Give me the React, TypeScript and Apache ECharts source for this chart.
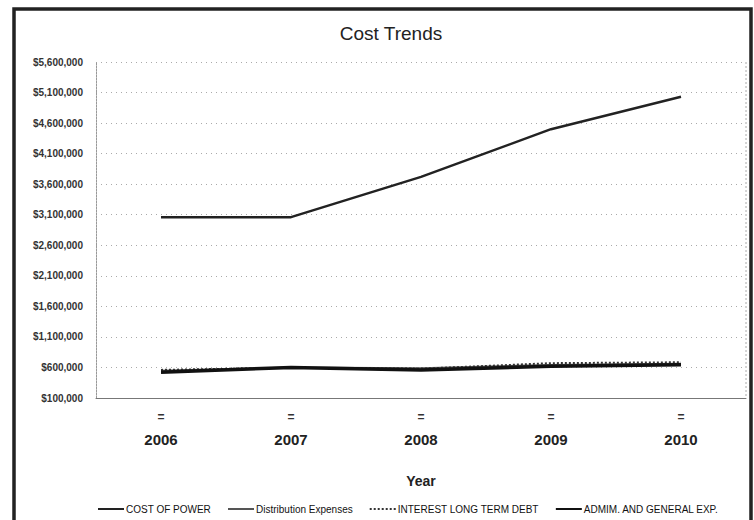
import React, { useEffect, useRef } from "react";
import * as echarts from "echarts";

const years = ["2006", "2007", "2008", "2009", "2010"];
const costOfPower = [3060000, 3060000, 3720000, 4500000, 5030000];
const distributionExpenses = [545000, 600000, 585000, 640000, 660000];
const interestLongTermDebt = [560000, 595000, 580000, 670000, 685000];
const adminGeneralExp = [520000, 600000, 560000, 620000, 645000];
const yMin = 100000;
const yMax = 5600000;
const yStep = 500000;

const fmtMoney = (v: number) => "$" + Math.round(v).toLocaleString("en-US");

export default function App() {
  const ref = useRef<HTMLDivElement>(null);
  useEffect(() => {
    const chart = echarts.init(ref.current!, null, { renderer: "svg" });
    const shift = (arr: number[]) => arr.map((v) => v - yMin);
    const font = "Liberation Sans, Arial, sans-serif";
    chart.setOption({
      animation: false,
      backgroundColor: "#fff",
      title: {
        text: "Cost Trends",
        left: 386,
        top: 19,
        textAlign: "center",
        textStyle: { fontFamily: font, fontSize: 19, fontWeight: "normal", color: "#222" },
      },
      grid: { left: 96, right: 8, top: 62, bottom: 122, containLabel: false },
      xAxis: {
        type: "category",
        data: years,
        boundaryGap: true,
        axisLine: { lineStyle: { color: "#777", width: 1 } },
        axisTick: { show: false },
        axisLabel: {
          margin: 8,
          formatter: (v: string) => "{eq|=}\n{yr|" + v + "}",
          rich: {
            eq: { fontFamily: font, fontSize: 12, fontWeight: "bold", color: "#333", lineHeight: 22 },
            yr: { fontFamily: font, fontSize: 15, fontWeight: "bold", color: "#222", lineHeight: 22 },
          },
        },
        name: "Year",
        nameLocation: "middle",
        nameGap: 76,
        nameTextStyle: { fontFamily: font, fontSize: 14, fontWeight: "bold", color: "#222" },
      },
      yAxis: {
        type: "value",
        min: 0,
        max: yMax - yMin,
        interval: yStep,
        axisLine: { show: true, lineStyle: { color: "#999", type: [2, 1], width: 1 } },
        axisTick: { show: false },
        axisLabel: {
          margin: 13,
          formatter: (v: number) => fmtMoney(v + yMin),
          fontFamily: font,
          fontSize: 10,
          fontWeight: "bold",
          color: "#333",
        },
        splitLine: { show: true, lineStyle: { color: "#aaa", type: [1, 4], width: 1 } },
      },
      legend: {
        left: 92,
        top: 499,
        itemWidth: 26,
        itemHeight: 8,
        itemGap: 16,
        itemStyle: { opacity: 0 },
        textStyle: { fontFamily: font, fontSize: 10, fontWeight: "normal", color: "#111", padding: [0, 0, 0, -3] },
        data: ["COST OF POWER", "Distribution Expenses", "INTEREST LONG TERM DEBT", "ADMIM. AND GENERAL EXP."],
      },
      graphic: [
        {
          type: "rect",
          shape: { x: 14, y: 9, width: 737, height: 540 },
          style: { fill: "none", stroke: "#222", lineWidth: 3.5 },
          silent: true,
        },
        {
          type: "line",
          shape: { x1: 746, y1: 62, x2: 746, y2: 398 },
          style: { stroke: "#aaa", lineWidth: 1, lineDash: [2, 2] },
          silent: true,
        },
      ],
      series: [
        {
          name: "COST OF POWER",
          type: "line",
          data: shift(costOfPower),
          symbol: "none",
          lineStyle: { color: "#222", width: 2.5 },
          itemStyle: { color: "#222" },
        },
        {
          name: "Distribution Expenses",
          type: "line",
          data: shift(distributionExpenses),
          symbol: "none",
          lineStyle: { color: "#555", width: 2 },
          itemStyle: { color: "#555" },
        },
        {
          name: "INTEREST LONG TERM DEBT",
          type: "line",
          data: shift(interestLongTermDebt),
          symbol: "none",
          lineStyle: { color: "#333", width: 2, type: [2, 2] },
          itemStyle: { color: "#333" },
        },
        {
          name: "ADMIM. AND GENERAL EXP.",
          type: "line",
          data: shift(adminGeneralExp),
          symbol: "none",
          lineStyle: { color: "#111", width: 3.5 },
          itemStyle: { color: "#111" },
        },
      ],
    });
    return () => chart.dispose();
  }, []);
  return (
    <div
      ref={ref}
      style={{ position: "absolute", left: 0, top: 0, width: 754, height: 520 }}
    />
  );
}
